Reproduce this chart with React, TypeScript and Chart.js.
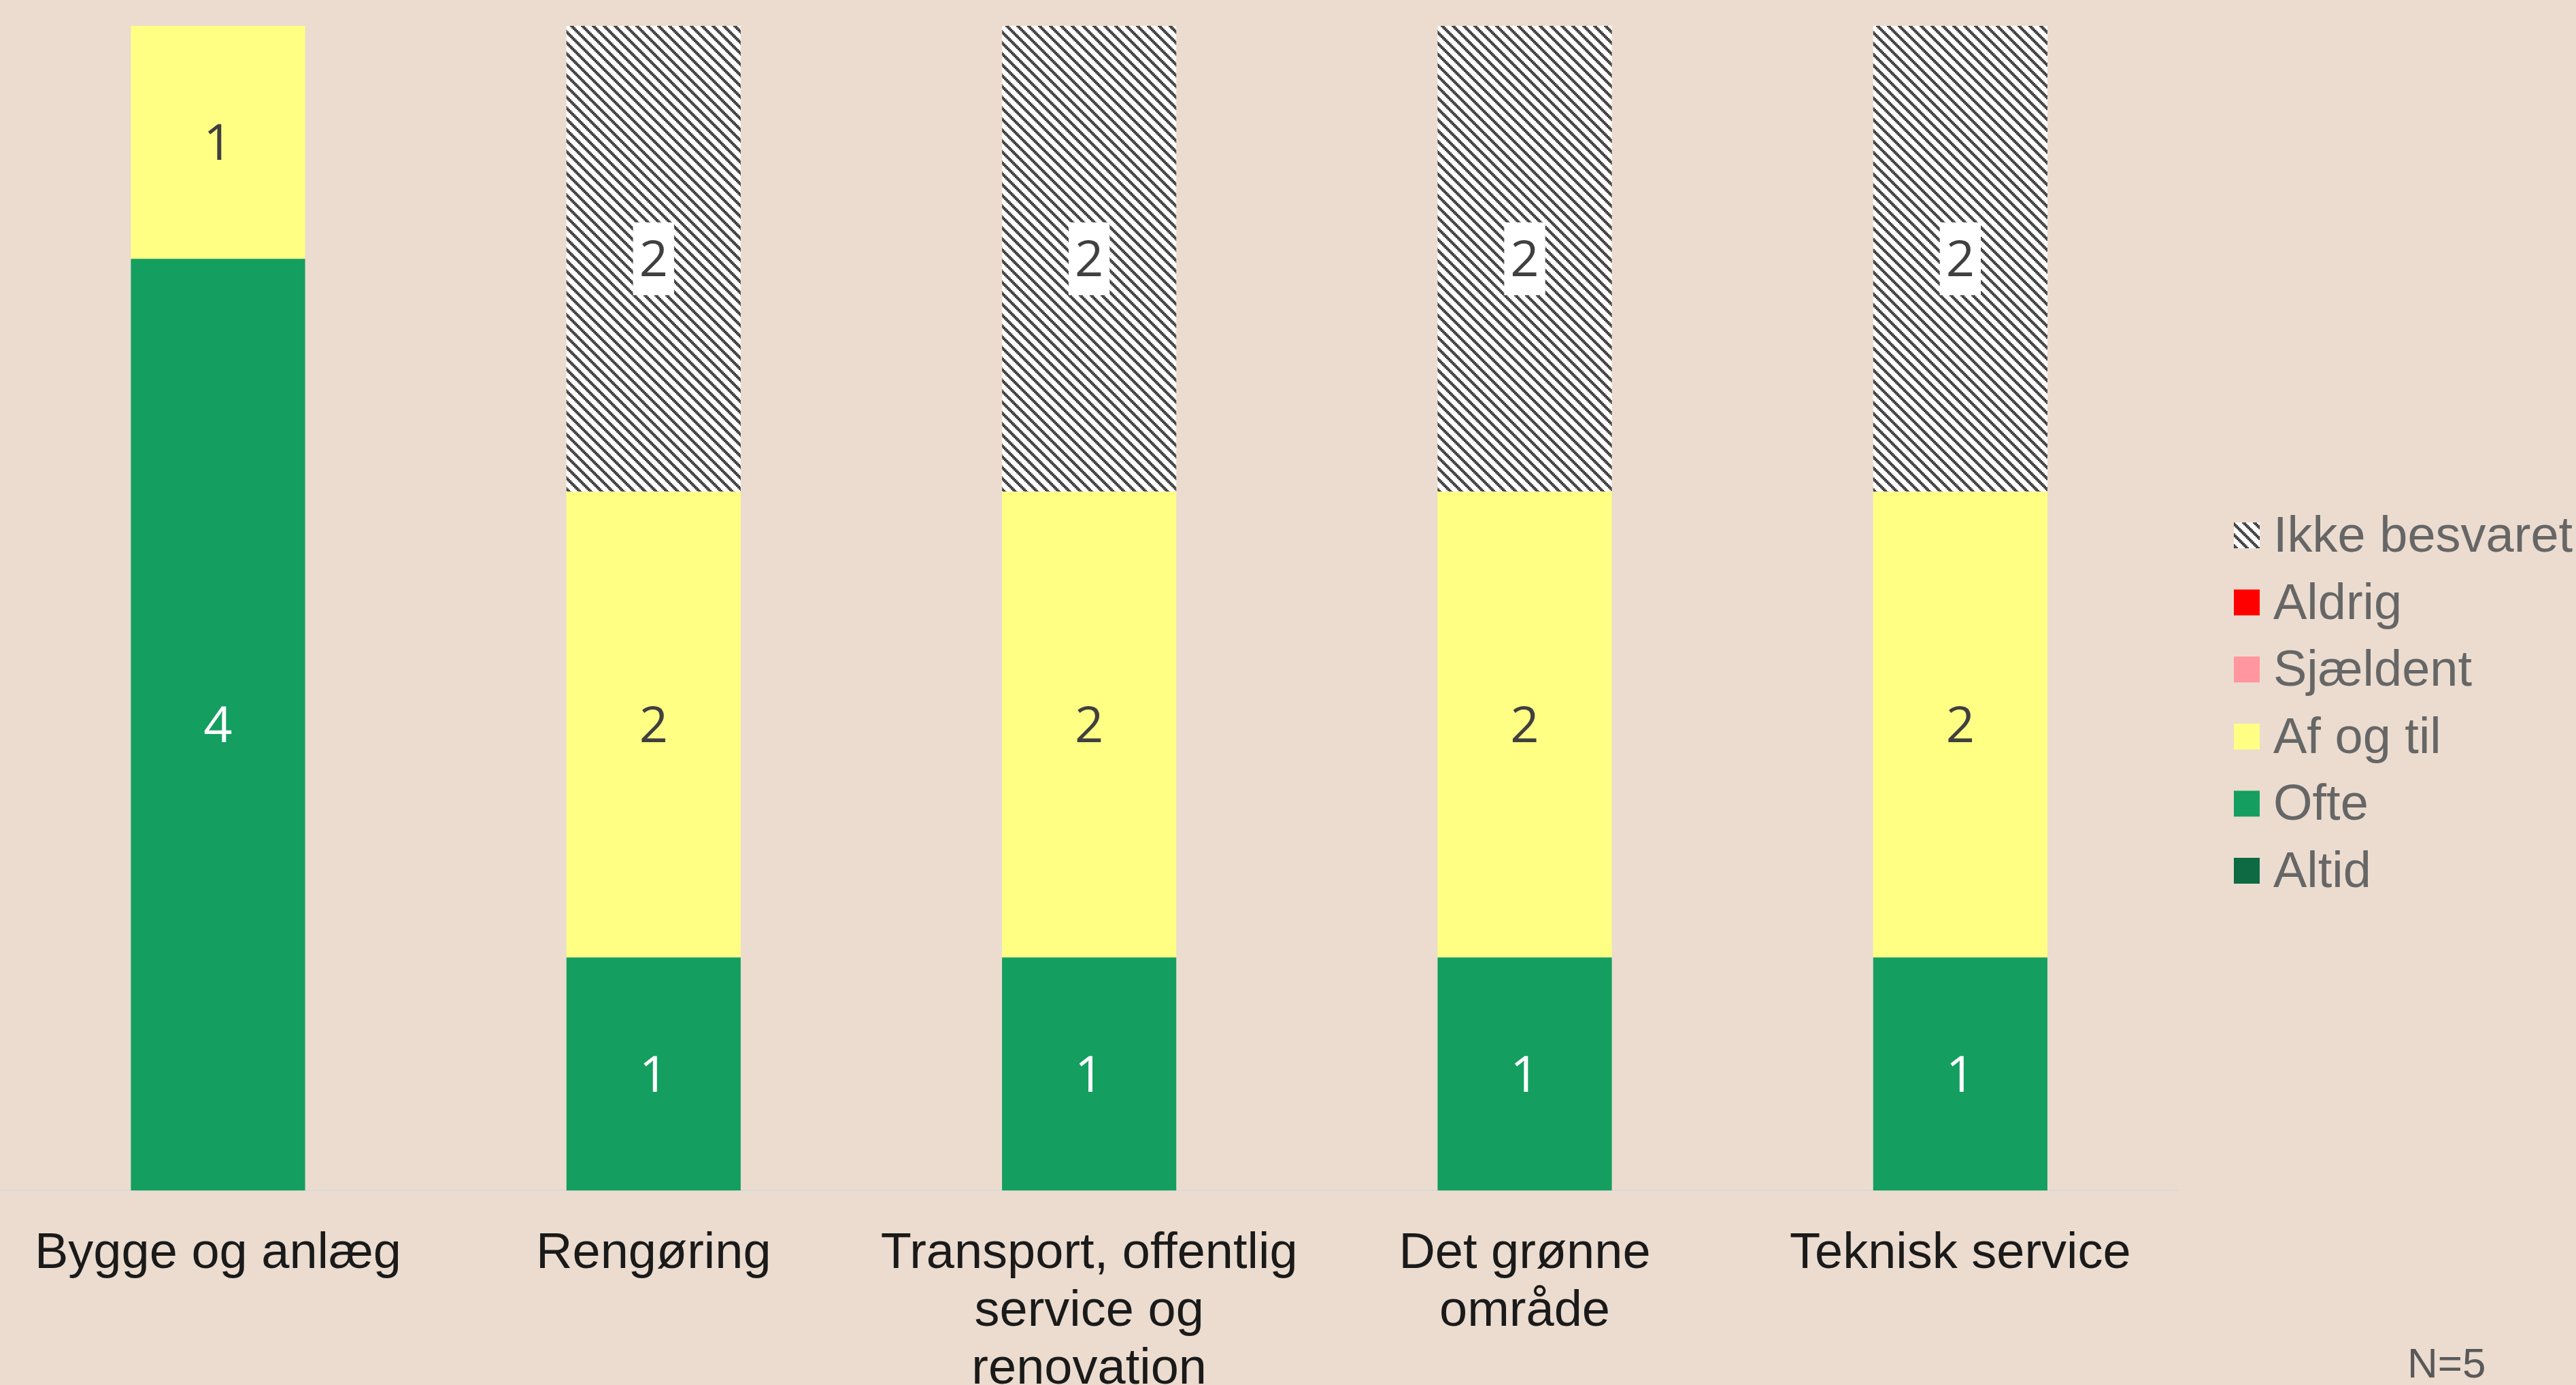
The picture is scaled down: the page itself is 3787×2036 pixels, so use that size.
import { useEffect, useRef } from 'react';
import { Chart, registerables } from 'chart.js';

Chart.register(...registerables);

// ---------- data ----------
const categories: (string | string[])[] = [
  'Bygge og anlæg',
  'Rengøring',
  ['Transport, offentlig', 'service og', 'renovation'],
  ['Det grønne', 'område'],
  'Teknisk service',
];

const seriesNames = ['Altid', 'Ofte', 'Af og til', 'Sjældent', 'Aldrig', 'Ikke besvaret'];
const altid = [0, 0, 0, 0, 0];
const ofte = [4, 1, 1, 1, 1];
const afOgTil = [1, 2, 2, 2, 2];
const sjaeldent = [0, 0, 0, 0, 0];
const aldrig = [0, 0, 0, 0, 0];
const ikkeBesvaret = [0, 2, 2, 2, 2];

const yMin = 0;
const yMax = 5;
const footnote = 'N=5';

// ---------- styles ----------
const W = 3787;
const H = 2036;
const BG = '#EBDCCF';
const LABEL_FONT = '"Liberation Sans", Arial, sans-serif';
const VALUE_FONT = '"Open Sans", "Noto Sans", sans-serif';

function makeHatch(): CanvasPattern | string {
  const tile = document.createElement('canvas');
  tile.width = 16;
  tile.height = 16;
  const t = tile.getContext('2d');
  if (!t) return '#888';
  t.fillStyle = '#ffffff';
  t.fillRect(0, 0, 16, 16);
  t.fillStyle = '#474747';
  for (let j = 0; j < 8; j++) {
    for (let i = 0; i < 8; i++) {
      const d = (((i - j) % 8) + 8) % 8;
      if (d < 3) t.fillRect(i * 2, j * 2, 2, 2);
    }
  }
  const main = document.createElement('canvas').getContext('2d');
  return main ? (main.createPattern(tile, 'repeat') as CanvasPattern) : '#888';
}

export default function App() {
  const ref = useRef<HTMLCanvasElement | null>(null);

  useEffect(() => {
    if (!ref.current) return;
    const hatch = makeHatch();

    const seriesValues = [altid, ofte, afOgTil, sjaeldent, aldrig, ikkeBesvaret];
    const seriesColors: (string | CanvasPattern)[] = ['#0D6A43', '#149E60', '#FFFF84', '#FF96A0', '#FF0000', hatch];
    const valueColors = ['#ffffff', '#ffffff', '#404040', '#404040', '#ffffff', '#404040'];

    const datasets = seriesNames.map((name, i) => ({
      label: name,
      data: seriesValues[i],
      backgroundColor: seriesColors[i] as any,
      borderWidth: 0,
      categoryPercentage: 1,
      barPercentage: 0.4,
      valueColor: valueColors[i],
      valueBox: i === 5,
    }));

    const bgPlugin = {
      id: 'bg',
      beforeDraw(chart: any) {
        const c = chart.ctx;
        c.save();
        c.fillStyle = BG;
        c.fillRect(0, 0, chart.width, chart.height);
        c.restore();
      },
    };

    const valuePlugin = {
      id: 'values',
      afterDatasetsDraw(chart: any) {
        const c = chart.ctx;
        c.save();
        c.font = `74px ${VALUE_FONT}`;
        c.textAlign = 'center';
        c.textBaseline = 'alphabetic';
        chart.data.datasets.forEach((ds: any, di: number) => {
          const meta = chart.getDatasetMeta(di);
          meta.data.forEach((el: any, i: number) => {
            const v = ds.data[i];
            if (!v) return;
            const p = el.getProps(['x', 'y', 'base'], true);
            const cy = (p.y + p.base) / 2;
            const txt = String(v);
            if (ds.valueBox) {
              const tw = c.measureText(txt).width;
              c.fillStyle = '#ffffff';
              c.fillRect(p.x - tw / 2 - 9, cy - 53.5, tw + 18, 107);
            }
            c.fillStyle = ds.valueColor;
            c.fillText(txt, p.x, cy + 26);
          });
        });
        c.restore();
      },
    };

    const legendPlugin = {
      id: 'customLegend',
      afterDraw(chart: any) {
        const c = chart.ctx;
        c.save();
        c.font = `74px ${LABEL_FONT}`;
        c.textAlign = 'left';
        c.textBaseline = 'alphabetic';
        const items = chart.data.datasets.map((d: any, i: number) => i).reverse();
        items.forEach((di: number, k: number) => {
          const ds = chart.data.datasets[di];
          const cy = 787 + k * 98.6;
          c.fillStyle = ds.backgroundColor;
          c.fillRect(3284, cy - 19, 38, 38);
          c.fillStyle = '#666666';
          c.fillText(ds.label, 3342, cy + 24);
        });
        c.font = `62px ${LABEL_FONT}`;
        c.fillStyle = '#595959';
        c.fillText(footnote, 3539, 2025);
        c.restore();
      },
    };

    const chart = new Chart(ref.current, {
      type: 'bar',
      data: { labels: categories as any, datasets: datasets as any },
      plugins: [bgPlugin, valuePlugin, legendPlugin],
      options: {
        responsive: false,
        animation: false,
        devicePixelRatio: 1,
        layout: { padding: { top: 38, left: 0, right: W - 3202, bottom: 0 } },
        plugins: {
          legend: { display: false },
          tooltip: { enabled: false },
        },
        scales: {
          x: {
            stacked: true,
            grid: { display: false, drawTicks: false, tickLength: 0 },
            border: { display: true, color: '#D9D9D9', width: 2 },
            ticks: {
              color: '#1a1a1a',
              font: { family: LABEL_FONT, size: 74, lineHeight: 1.15 },
              padding: 51,
              maxRotation: 0,
              minRotation: 0,
              autoSkip: false,
            },
            afterFit(scale: any) {
              scale.height = H - 1750;
            },
          },
          y: {
            stacked: true,
            display: false,
            min: yMin,
            max: yMax,
          },
        },
      } as any,
    });
    return () => chart.destroy();
  }, []);

  return (
    <div style={{ position: 'fixed', left: 0, top: 0, width: W, height: H, background: BG, overflow: 'hidden' }}>
      <canvas ref={ref} width={W} height={H} style={{ width: W, height: H, display: 'block' }} />
    </div>
  );
}
